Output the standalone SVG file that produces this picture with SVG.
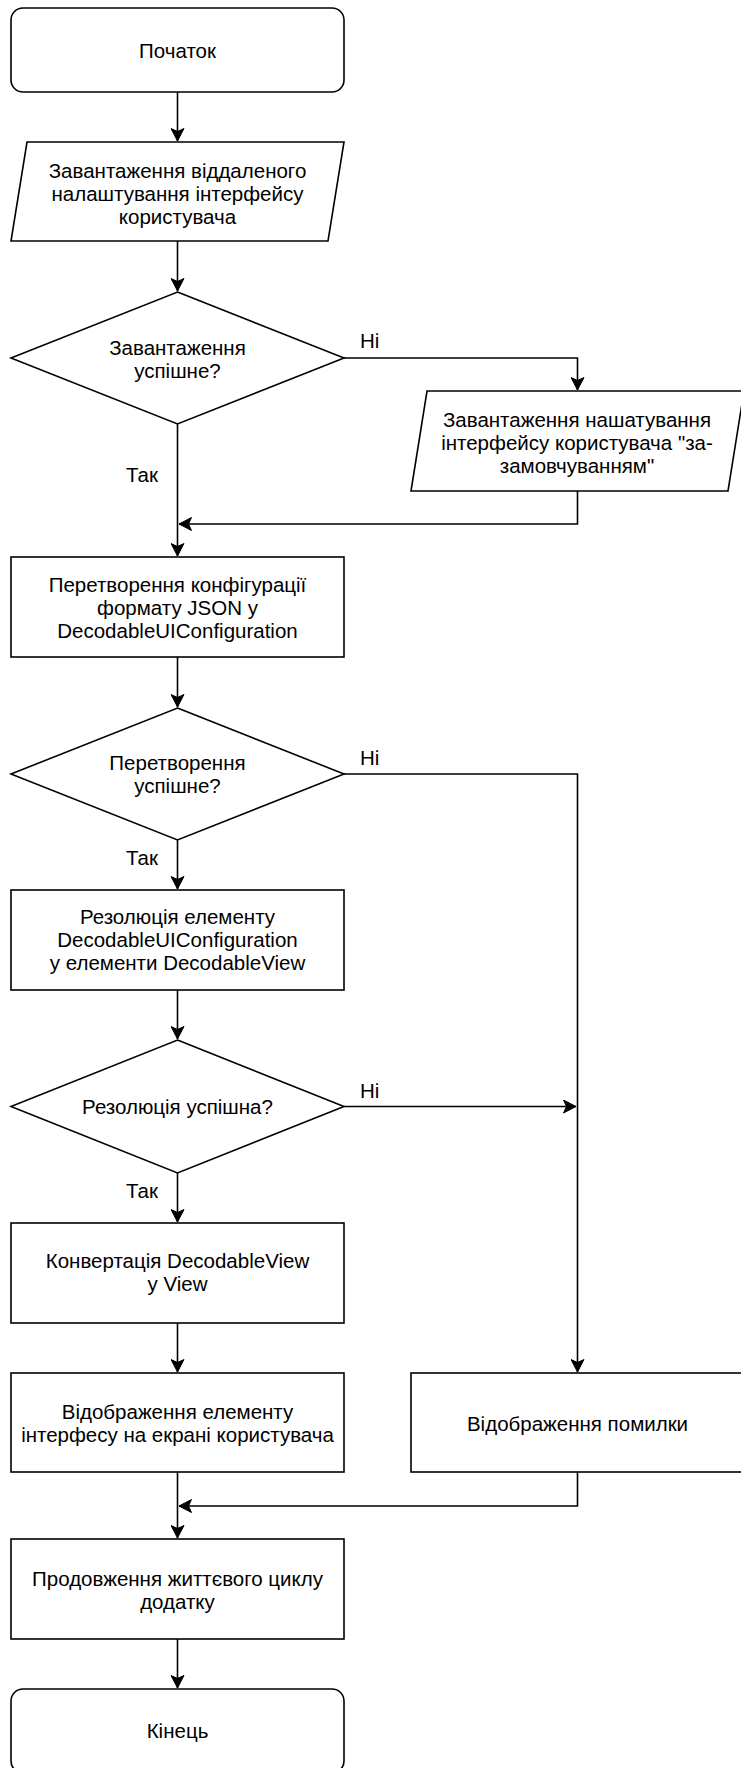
<svg xmlns="http://www.w3.org/2000/svg" width="741" height="1768" viewBox="0 0 741 1768">
<style>
.s{fill:#fff;stroke:#000;stroke-width:1.6}
.t{font-family:"Liberation Sans",Arial,Helvetica,sans-serif;font-size:20.5px;fill:#000;text-anchor:middle}
.l{font-family:"Liberation Sans",Arial,Helvetica,sans-serif;font-size:20.5px;fill:#000}
.c{fill:none;stroke:#000;stroke-width:1.6}
</style>
<defs>
<marker id="arr" viewBox="-13 -7 14 14" refX="0" refY="0" markerWidth="14" markerHeight="14" markerUnits="userSpaceOnUse" orient="auto">
<path d="M-12.5,-6.5 L0,0 L-12.5,6.5 L-9.5,0 Z" fill="#000" stroke="#000" stroke-width="1"/>
</marker>
</defs>
<rect width="741" height="1768" fill="#fff"/>
<g id="connectors">
<path class="c" d="M177.5,92 V141" marker-end="url(#arr)"/>
<path class="c" d="M177.5,241 V291" marker-end="url(#arr)"/>
<path class="c" d="M344,358 H577.5 V390" marker-end="url(#arr)"/>
<path class="c" d="M177.5,424 V556" marker-end="url(#arr)"/>
<path class="c" d="M577.5,491 V524 H179" marker-end="url(#arr)"/>
<path class="c" d="M177.5,657 V707" marker-end="url(#arr)"/>
<path class="c" d="M344,774 H577.5 V1372" marker-end="url(#arr)"/>
<path class="c" d="M177.5,840 V889" marker-end="url(#arr)"/>
<path class="c" d="M177.5,990 V1039" marker-end="url(#arr)"/>
<path class="c" d="M344,1106.5 H576" marker-end="url(#arr)"/>
<path class="c" d="M177.5,1173 V1222" marker-end="url(#arr)"/>
<path class="c" d="M177.5,1323 V1372" marker-end="url(#arr)"/>
<path class="c" d="M177.5,1472 V1538" marker-end="url(#arr)"/>
<path class="c" d="M577.5,1472 V1506 H179" marker-end="url(#arr)"/>
<path class="c" d="M177.5,1639 V1688" marker-end="url(#arr)"/>
<text class="l" x="360" y="348">Ні</text>
<text class="l" x="126" y="482">Так</text>
<text class="l" x="360" y="765">Ні</text>
<text class="l" x="126" y="865">Так</text>
<text class="l" x="360" y="1098">Ні</text>
<text class="l" x="126" y="1198">Так</text>
</g>
<g id="start">
<rect class="s" x="11" y="8" width="333" height="84" rx="12" ry="12"/>
<text class="t" x="177.5" y="58">Початок</text>
</g>
<g id="load-remote">
<polygon class="s" points="27,142 344,142 328,241 11,241"/>
<text class="t" x="177.5" y="177.5">Завантаження віддаленого</text>
<text class="t" x="177.5" y="200.5">налаштування інтерфейсу</text>
<text class="t" x="177.5" y="223.5">користувача</text>
</g>
<g id="load-ok">
<polygon class="s" points="177.5,292 344,358 177.5,424 11,358"/>
<text class="t" x="177.5" y="355">Завантаження</text>
<text class="t" x="177.5" y="378">успішне?</text>
</g>
<g id="load-default">
<polygon class="s" points="427,391 744,391 728,491 411,491"/>
<text class="t" x="577" y="427">Завантаження нашатування</text>
<text class="t" x="577" y="450">інтерфейсу користувача "за-</text>
<text class="t" x="577" y="473">замовчуванням"</text>
</g>
<g id="convert-json">
<rect class="s" x="11" y="557" width="333" height="100"/>
<text class="t" x="177.5" y="592">Перетворення конфігурації</text>
<text class="t" x="177.5" y="615">формату JSON у</text>
<text class="t" x="177.5" y="638">DecodableUIConfiguration</text>
</g>
<g id="convert-ok">
<polygon class="s" points="177.5,708 344,774 177.5,840 11,774"/>
<text class="t" x="177.5" y="770">Перетворення</text>
<text class="t" x="177.5" y="793">успішне?</text>
</g>
<g id="resolve">
<rect class="s" x="11" y="890" width="333" height="100"/>
<text class="t" x="177.5" y="924">Резолюція елементу</text>
<text class="t" x="177.5" y="947">DecodableUIConfiguration</text>
<text class="t" x="177.5" y="970">у елементи DecodableView</text>
</g>
<g id="resolve-ok">
<polygon class="s" points="177.5,1040 344,1106.5 177.5,1173 11,1106.5"/>
<text class="t" x="177.5" y="1114">Резолюція успішна?</text>
</g>
<g id="convert-view">
<rect class="s" x="11" y="1223" width="333" height="100"/>
<text class="t" x="177.5" y="1268">Конвертація DecodableView</text>
<text class="t" x="177.5" y="1291">у View</text>
</g>
<g id="display">
<rect class="s" x="11" y="1373" width="333" height="99"/>
<text class="t" x="177.5" y="1419">Відображення елементу</text>
<text class="t" x="177.5" y="1442">інтерфесу на екрані користувача</text>
</g>
<g id="error">
<rect class="s" x="411" y="1373" width="333" height="99"/>
<text class="t" x="577.5" y="1431">Відображення помилки</text>
</g>
<g id="continue">
<rect class="s" x="11" y="1539" width="333" height="100"/>
<text class="t" x="177.5" y="1586">Продовження життєвого циклу</text>
<text class="t" x="177.5" y="1609">додатку</text>
</g>
<g id="end">
<rect class="s" x="11" y="1689" width="333" height="84" rx="12" ry="12"/>
<text class="t" x="177.5" y="1738">Кінець</text>
</g>
</svg>
